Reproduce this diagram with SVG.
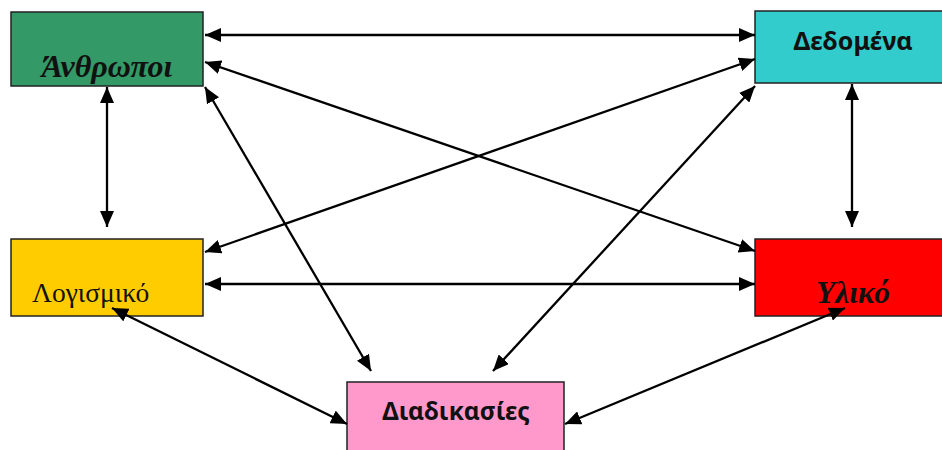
<svg xmlns="http://www.w3.org/2000/svg" width="942" height="450" viewBox="0 0 942 450">
<style>
.box{stroke:#222;stroke-width:1.5}
.lnk{stroke:#000;stroke-width:2.3;fill:none;marker-start:url(#ah);marker-end:url(#ah)}
.sans{font-family:"Noto Sans","Open Sans","DejaVu Sans",sans-serif;font-weight:bold;fill:#111}
.serif{font-family:"Liberation Serif","DejaVu Serif",serif;fill:#111}
</style>
<defs>
<marker id="ah" viewBox="0 0 16 14" refX="16" refY="7" markerWidth="16" markerHeight="14" markerUnits="userSpaceOnUse" orient="auto-start-reverse">
<path d="M0,0 L16,7 L0,14 z" fill="#000"/>
</marker>
</defs>
<g id="anthropoi">
<rect class="box" x="11" y="12" width="192" height="74" fill="#339966"/>
<text class="serif" x="107" y="77" font-size="32" font-weight="bold" font-style="italic" text-anchor="middle">Άνθρωποι</text>
</g>
<g id="dedomena">
<rect class="box" x="755" y="11" width="195" height="72" fill="#33CCCC"/>
<text class="sans" x="853" y="50" font-size="25" text-anchor="middle">Δεδομένα</text>
</g>
<g id="logismiko">
<rect class="box" x="11" y="239" width="192" height="77" fill="#FFCC00"/>
<text class="serif" x="32" y="302" font-size="27.5">Λογισμικό</text>
</g>
<g id="yliko">
<rect class="box" x="755" y="239" width="195" height="77" fill="#FF0000"/>
<text class="serif" x="853" y="303" font-size="31.5" font-weight="bold" font-style="italic" text-anchor="middle">Υλικό</text>
</g>
<g id="diadikasies">
<rect class="box" x="347" y="382" width="217" height="80" fill="#FF99CC"/>
<text class="sans" x="456" y="420" font-size="24.5" text-anchor="middle">Διαδικασίες</text>
</g>
<g id="connectors">
<line class="lnk" x1="205" y1="35" x2="755" y2="35"/>
<line class="lnk" x1="205" y1="62" x2="755" y2="251"/>
<line class="lnk" x1="205" y1="87" x2="371" y2="371"/>
<line class="lnk" x1="107" y1="87" x2="107" y2="227"/>
<line class="lnk" x1="755" y1="59" x2="205" y2="252"/>
<line class="lnk" x1="755" y1="86" x2="493" y2="371"/>
<line class="lnk" x1="852" y1="84" x2="852" y2="227"/>
<line class="lnk" x1="205" y1="284" x2="755" y2="284"/>
<line class="lnk" x1="112" y1="308" x2="347" y2="424"/>
<line class="lnk" x1="845" y1="308" x2="565" y2="424"/>
</g>
</svg>
